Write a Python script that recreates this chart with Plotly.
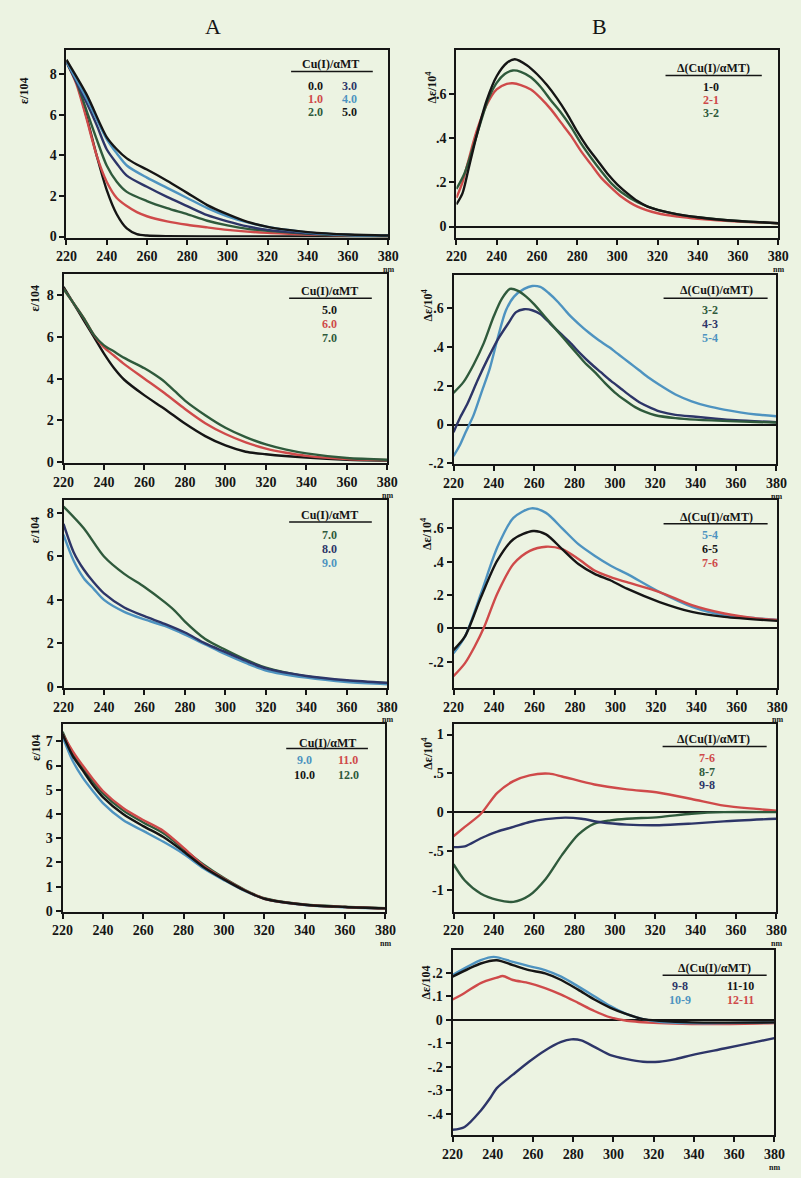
import plotly.graph_objects as go

W, H = 801, 1178
BG = "#ECF3E2"
BLACK = "#151515"
RED = "#CF4A4A"
GREEN = "#2F5A3C"
NAVY = "#2D3568"
LBLUE = "#4E93C0"
FONT = "Liberation Serif"

# ---------------- Column A: absorption spectra (eps / 10^4) ----------------
a1_00_wl = [220, 225, 230, 235, 240, 245, 250, 255, 260, 270, 300, 380]
a1_00 = [8.7, 7.6, 5.9, 4.0, 2.3, 1.1, 0.4, 0.12, 0.05, 0.02, 0.01, 0.0]
a1_10_wl = [220, 225, 230, 235, 240, 245, 250, 255, 260, 270, 280, 290, 300, 320, 340, 360, 380]
a1_10 = [8.6, 7.5, 5.8, 4.0, 2.7, 1.9, 1.5, 1.2, 1.0, 0.75, 0.58, 0.45, 0.33, 0.18, 0.1, 0.05, 0.03]
a1_20_wl = [220, 225, 230, 235, 240, 245, 250, 260, 270, 280, 290, 300, 310, 320, 340, 360, 380]
a1_20 = [8.6, 7.6, 6.2, 4.8, 3.5, 2.7, 2.2, 1.75, 1.4, 1.1, 0.78, 0.55, 0.38, 0.28, 0.14, 0.06, 0.03]
a1_30_wl = [220, 230, 235, 240, 245, 250, 260, 270, 280, 290, 300, 310, 320, 340, 360, 380]
a1_30 = [8.6, 6.6, 5.5, 4.3, 3.6, 3.0, 2.45, 1.95, 1.5, 1.05, 0.75, 0.5, 0.33, 0.16, 0.08, 0.04]
a1_40_wl = [220, 230, 240, 245, 250, 260, 270, 280, 290, 300, 310, 320, 330, 340, 360, 380]
a1_40 = [8.6, 6.8, 4.8, 4.1, 3.5, 2.9, 2.4, 1.9, 1.4, 1.0, 0.7, 0.48, 0.32, 0.2, 0.08, 0.04]
a1_50_wl = [220, 230, 240, 245, 250, 255, 260, 270, 280, 290, 300, 310, 320, 330, 340, 360, 380]
a1_50 = [8.7, 7.0, 4.9, 4.3, 3.85, 3.55, 3.3, 2.75, 2.15, 1.55, 1.1, 0.72, 0.48, 0.33, 0.22, 0.1, 0.05]

a2_50_wl = [220, 225, 230, 235, 240, 245, 250, 260, 270, 280, 290, 300, 310, 320, 340, 360, 380]
a2_50 = [8.4, 7.6, 6.8, 6.0, 5.2, 4.5, 3.95, 3.2, 2.55, 1.85, 1.25, 0.8, 0.5, 0.38, 0.22, 0.12, 0.08]
a2_60_wl = [220, 230, 235, 240, 245, 250, 260, 270, 280, 290, 300, 310, 320, 330, 340, 360, 380]
a2_60 = [8.3, 6.9, 6.1, 5.5, 5.1, 4.7, 4.0, 3.3, 2.55, 1.87, 1.35, 0.95, 0.65, 0.45, 0.3, 0.15, 0.1]
a2_70_wl = [220, 230, 235, 240, 245, 250, 260, 265, 270, 275, 280, 290, 300, 310, 320, 330, 340, 360, 380]
a2_70 = [8.3, 6.9, 6.1, 5.6, 5.3, 5.0, 4.5, 4.2, 3.85, 3.4, 2.95, 2.25, 1.65, 1.2, 0.85, 0.6, 0.42, 0.2, 0.12]

a3_70_wl = [220, 230, 240, 250, 260, 270, 275, 280, 290, 300, 310, 320, 330, 340, 360, 380]
a3_70 = [8.3, 7.3, 6.0, 5.2, 4.6, 3.9, 3.5, 3.0, 2.2, 1.7, 1.25, 0.88, 0.65, 0.48, 0.27, 0.18]
a3_80_wl = [220, 225, 230, 235, 240, 250, 260, 270, 280, 290, 300, 310, 320, 340, 360, 380]
a3_80 = [7.5, 6.2, 5.4, 4.8, 4.3, 3.65, 3.25, 2.9, 2.5, 2.0, 1.6, 1.2, 0.85, 0.5, 0.3, 0.18]
a3_90_wl = [220, 225, 230, 235, 240, 250, 260, 270, 280, 290, 300, 310, 320, 340, 360, 380]
a3_90 = [7.0, 5.8, 5.0, 4.5, 4.0, 3.45, 3.1, 2.8, 2.4, 1.95, 1.5, 1.1, 0.75, 0.42, 0.22, 0.12]

a4_wl = [220, 225, 230, 235, 240, 250, 260, 270, 280, 290, 300, 310, 320, 340, 360, 380]
a4_90 = [7.2, 6.2, 5.5, 4.95, 4.45, 3.75, 3.3, 2.85, 2.35, 1.75, 1.27, 0.83, 0.5, 0.24, 0.15, 0.1]
a4_100 = [7.3, 6.4, 5.8, 5.2, 4.7, 4.0, 3.5, 3.05, 2.45, 1.8, 1.3, 0.85, 0.5, 0.25, 0.16, 0.1]
a4_110 = [7.3, 6.6, 6.0, 5.45, 4.95, 4.25, 3.75, 3.3, 2.6, 1.85, 1.32, 0.86, 0.5, 0.25, 0.16, 0.1]
a4_120 = [7.4, 6.5, 5.9, 5.35, 4.85, 4.15, 3.65, 3.2, 2.55, 1.9, 1.35, 0.88, 0.52, 0.26, 0.17, 0.11]

# ---------------- Column B: difference spectra (delta eps / 10^4) ----------------
b1_10_wl = [220, 223, 226, 230, 235, 240, 245, 249, 255, 260, 265, 270, 275, 280, 285, 290, 295, 300, 305, 310, 315, 320, 330, 340, 350, 360, 370, 380]
b1_10 = [0.10, 0.15, 0.26, 0.41, 0.57, 0.68, 0.74, 0.757, 0.73, 0.69, 0.64, 0.58, 0.51, 0.43, 0.36, 0.30, 0.24, 0.19, 0.15, 0.115, 0.09, 0.075, 0.055, 0.042, 0.032, 0.025, 0.02, 0.015]
b1_21_wl = [220, 223, 226, 230, 235, 240, 245, 248, 252, 257, 262, 267, 272, 277, 282, 287, 292, 297, 302, 310, 320, 330, 340, 360, 380]
b1_21 = [0.13, 0.2, 0.3, 0.43, 0.55, 0.62, 0.645, 0.648, 0.64, 0.62, 0.58, 0.53, 0.47, 0.41, 0.34, 0.28, 0.22, 0.175, 0.135, 0.09, 0.06, 0.045, 0.035, 0.022, 0.015]
b1_32_wl = [220, 224, 228, 232, 236, 240, 244, 248, 252, 257, 262, 267, 272, 277, 282, 287, 292, 297, 302, 310, 320, 330, 340, 360, 380]
b1_32 = [0.17, 0.24, 0.35, 0.47, 0.58, 0.65, 0.69, 0.706, 0.70, 0.675, 0.63, 0.57, 0.515, 0.45, 0.375, 0.31, 0.25, 0.195, 0.155, 0.11, 0.075, 0.055, 0.042, 0.025, 0.015]

b2_32_wl = [220, 225, 230, 235, 240, 244, 248, 252, 256, 260, 265, 270, 275, 280, 285, 290, 295, 300, 305, 310, 315, 320, 330, 340, 360, 380]
b2_32 = [0.163, 0.22, 0.31, 0.42, 0.56, 0.65, 0.70, 0.69, 0.66, 0.62, 0.56, 0.50, 0.44, 0.38, 0.32, 0.27, 0.215, 0.165, 0.125, 0.09, 0.065, 0.048, 0.033, 0.025, 0.016, 0.01]
b2_43_wl = [220, 223, 227, 232, 237, 242, 247, 251, 255, 259, 263, 268, 273, 278, 283, 288, 293, 298, 303, 308, 313, 318, 323, 330, 340, 350, 360, 380]
b2_43 = [-0.04, 0.03, 0.11, 0.23, 0.34, 0.44, 0.52, 0.58, 0.595, 0.59, 0.57, 0.52, 0.47, 0.42, 0.365, 0.315, 0.27, 0.225, 0.185, 0.145, 0.11, 0.085, 0.065, 0.05, 0.04, 0.03, 0.022, 0.012]
b2_54_wl = [220, 223, 226, 230, 234, 238, 242, 246, 250, 255, 259, 263, 267, 272, 277, 282, 287, 292, 297, 302, 307, 312, 317, 322, 330, 338, 346, 354, 362, 370, 380]
b2_54 = [-0.163, -0.11, -0.04, 0.05, 0.17, 0.29, 0.45, 0.59, 0.66, 0.70, 0.715, 0.71, 0.68, 0.63, 0.57, 0.52, 0.475, 0.435, 0.40, 0.36, 0.32, 0.28, 0.24, 0.205, 0.155, 0.12, 0.095, 0.077, 0.063, 0.052, 0.043]

b3_54_wl = [220, 225.6, 233.6, 241.6, 249.6, 258.5, 265.7, 273.7, 281.7, 289.7, 297.7, 305.7, 321.8, 337.8, 353.8, 369.8, 380]
b3_54 = [-0.15, -0.05, 0.21, 0.485, 0.663, 0.72, 0.693, 0.6, 0.505, 0.436, 0.376, 0.327, 0.218, 0.129, 0.079, 0.06, 0.05]
b3_65_wl = [220, 225.6, 233.6, 241.6, 249.6, 259.3, 265.7, 273.7, 281.7, 289.7, 297.7, 305.7, 321.8, 337.8, 353.8, 380]
b3_65 = [-0.13, -0.05, 0.188, 0.406, 0.535, 0.584, 0.564, 0.475, 0.386, 0.327, 0.287, 0.238, 0.158, 0.099, 0.069, 0.045]
b3_76_wl = [220, 225.6, 230.4, 235.2, 241.6, 249.6, 257.7, 265.7, 273.7, 281.7, 289.7, 297.7, 305.7, 321.8, 337.8, 353.8, 369.8, 380]
b3_76 = [-0.287, -0.21, -0.11, 0.01, 0.208, 0.386, 0.465, 0.49, 0.475, 0.416, 0.347, 0.307, 0.277, 0.218, 0.139, 0.089, 0.06, 0.05]

b4_76_wl = [220, 225.6, 233.6, 241.7, 249.7, 257.7, 267.4, 273.8, 289.8, 305.9, 321.9, 338, 354, 370, 380]
b4_76 = [-0.31, -0.19, -0.02, 0.25, 0.40, 0.475, 0.496, 0.46, 0.357, 0.294, 0.25, 0.17, 0.084, 0.042, 0.02]
b4_87_wl = [220, 225.6, 233.6, 241.7, 249.7, 257.7, 265.7, 273.8, 281.8, 289.8, 297.8, 305.9, 321.9, 338, 354, 380]
b4_87 = [-0.67, -0.88, -1.05, -1.13, -1.155, -1.07, -0.86, -0.55, -0.29, -0.147, -0.105, -0.084, -0.063, -0.02, 0.0, 0.0]
b4_98_wl = [220, 225.6, 233.6, 241.7, 249.7, 257.7, 265.7, 275.3, 283.4, 293, 305.9, 321.9, 338, 354, 380]
b4_98 = [-0.45, -0.44, -0.336, -0.25, -0.19, -0.126, -0.09, -0.07, -0.084, -0.13, -0.16, -0.168, -0.147, -0.118, -0.084]

b5_98_wl = [220, 226, 234, 238.9, 242, 250, 258, 266, 274, 279, 284, 290.5, 298.5, 306.6, 314.7, 322.7, 330.8, 338.9, 355, 371, 380]
b5_98 = [-0.467, -0.455, -0.386, -0.33, -0.29, -0.233, -0.178, -0.13, -0.094, -0.083, -0.0875, -0.115, -0.15, -0.167, -0.178, -0.178, -0.167, -0.15, -0.122, -0.094, -0.078]
b5_109_wl = [220, 234, 240.5, 250, 258, 266, 274, 282.4, 290.5, 298.5, 306.6, 314.7, 322.7, 338.9, 355, 380]
b5_109 = [0.19, 0.253, 0.267, 0.246, 0.228, 0.211, 0.183, 0.142, 0.10, 0.058, 0.024, 0.003, -0.008, -0.014, -0.014, -0.011]
b5_1110_wl = [220, 234, 242, 250, 258, 266, 274, 282.4, 290.5, 298.5, 306.6, 314.7, 322.7, 338.9, 380]
b5_1110 = [0.183, 0.239, 0.253, 0.232, 0.211, 0.197, 0.169, 0.128, 0.086, 0.051, 0.024, 0.003, -0.004, -0.011, -0.011]
b5_1211_wl = [220, 226, 234, 242, 245, 250, 258, 266, 274, 282.4, 290.5, 298.5, 306.6, 322.7, 338.9, 355, 380]
b5_1211 = [0.086, 0.114, 0.156, 0.179, 0.186, 0.169, 0.156, 0.135, 0.107, 0.072, 0.0375, 0.01, -0.004, -0.014, -0.018, -0.018, -0.014]

# tick labels
x_ticks = [220, 240, 260, 280, 300, 320, 340, 360, 380]
a_yticks = [0, 2, 4, 6, 8]
a4_yticks = [0, 1, 2, 3, 4, 5, 6, 7]
b1_yticks = [0, 0.2, 0.4, 0.6]
b1_ytext = ["0", ".2", ".4", ".6"]
b23_yticks = [-0.2, 0, 0.2, 0.4, 0.6]
b23_ytext = ["-.2", "0", ".2", ".4", ".6"]
b4_yticks = [-1, -0.5, 0, 0.5, 1]
b4_ytext = ["-1", "-.5", "0", ".5", "1"]
b5_yticks = [-0.4, -0.3, -0.2, -0.1, 0, 0.1, 0.2]
b5_ytext = ["-.4", "-.3", "-.2", "-.1", "0", ".1", ".2"]


def px(x):
    return x / W


def py(y):
    return 1 - y / H


# panel boxes in pixels: (left, right, top, bottom), y range, y ticks, y tick text, zero line
panels = [
    dict(box=(57, 388, 50, 239), yr=(-0.05, 9.2), yt=a_yticks, ytt=None, zero=False),
    dict(box=(54, 387, 276, 466), yr=(-0.05, 9.0), yt=a_yticks, ytt=None, zero=False),
    dict(box=(54, 387, 503, 692), yr=(-0.05, 8.6), yt=a_yticks, ytt=None, zero=False),
    dict(box=(53, 385, 728, 917), yr=(-0.03, 7.73), yt=a4_yticks, ytt=None, zero=False),
    dict(box=(458, 789, 50, 239), yr=(-0.05, 0.8), yt=b1_yticks, ytt=b1_ytext, zero=True),
    dict(box=(455, 787, 277, 467), yr=(-0.205, 0.77), yt=b23_yticks, ytt=b23_ytext, zero=True),
    dict(box=(455, 788, 503, 692), yr=(-0.357, 0.77), yt=b23_yticks, ytt=b23_ytext, zero=True),
    dict(box=(455, 787, 728, 917), yr=(-1.28, 1.14), yt=b4_yticks, ytt=b4_ytext, zero=True),
    dict(box=(454, 785, 956, 1142), yr=(-0.49, 0.295), yt=b5_yticks, ytt=b5_ytext, zero=True),
]

series = [
    (0, a1_00_wl, a1_00, BLACK), (0, a1_10_wl, a1_10, RED), (0, a1_20_wl, a1_20, GREEN),
    (0, a1_30_wl, a1_30, NAVY), (0, a1_40_wl, a1_40, LBLUE), (0, a1_50_wl, a1_50, BLACK),
    (1, a2_50_wl, a2_50, BLACK), (1, a2_60_wl, a2_60, RED), (1, a2_70_wl, a2_70, GREEN),
    (2, a3_70_wl, a3_70, GREEN), (2, a3_90_wl, a3_90, LBLUE), (2, a3_80_wl, a3_80, NAVY),
    (3, a4_wl, a4_90, LBLUE), (3, a4_wl, a4_120, GREEN), (3, a4_wl, a4_110, RED), (3, a4_wl, a4_100, BLACK),
    (4, b1_21_wl, b1_21, RED), (4, b1_32_wl, b1_32, GREEN), (4, b1_10_wl, b1_10, BLACK),
    (5, b2_54_wl, b2_54, LBLUE), (5, b2_43_wl, b2_43, NAVY), (5, b2_32_wl, b2_32, GREEN),
    (6, b3_54_wl, b3_54, LBLUE), (6, b3_76_wl, b3_76, RED), (6, b3_65_wl, b3_65, BLACK),
    (7, b4_76_wl, b4_76, RED), (7, b4_87_wl, b4_87, GREEN), (7, b4_98_wl, b4_98, NAVY),
    (8, b5_98_wl, b5_98, NAVY), (8, b5_1211_wl, b5_1211, RED), (8, b5_109_wl, b5_109, LBLUE),
    (8, b5_1110_wl, b5_1110, BLACK),
]

fig = go.Figure()
layout = dict(
    width=W, height=H, margin=dict(l=0, r=0, t=0, b=0),
    paper_bgcolor=BG, plot_bgcolor=BG, showlegend=False,
    font=dict(family=FONT, color=BLACK),
)

tickfont = dict(family=FONT, size=14, color=BLACK, weight="bold")
for i, p in enumerate(panels):
    l, r, t, b = p["box"]
    sfx = "" if i == 0 else str(i + 1)
    layout["xaxis" + sfx] = dict(
        domain=[px(l), px(r)], range=[220, 380], anchor="y" + sfx,
        tickvals=x_ticks, ticks="outside", ticklen=5, tickwidth=2, tickcolor=BLACK,
        showline=True, linewidth=2, linecolor=BLACK, mirror=True,
        showgrid=False, zeroline=False, tickfont=tickfont,
    )
    yax = dict(
        domain=[py(b), py(t)], range=list(p["yr"]), anchor="x" + sfx,
        tickvals=p["yt"], ticks="outside", ticklen=5, tickwidth=2, tickcolor=BLACK,
        showline=True, linewidth=2, linecolor=BLACK, mirror=True,
        showgrid=False, zeroline=p["zero"], zerolinecolor=BLACK, zerolinewidth=2,
        tickfont=tickfont,
    )
    if p["ytt"] is not None:
        yax["ticktext"] = p["ytt"]
    layout["yaxis" + sfx] = yax

for idx, wl, vals, col in series:
    sfx = "" if idx == 0 else str(idx + 1)
    fig.add_trace(go.Scatter(
        x=wl, y=vals, mode="lines", xaxis="x" + sfx, yaxis="y" + sfx,
        line=dict(color=col, width=2.4, shape="spline", smoothing=0.8),
        hoverinfo="skip",
    ))

ann = []
shapes = []


def text(x, y, s, size=12, color=BLACK, bold=True, angle=0, family=FONT):
    ann.append(dict(
        x=px(x), y=py(y), xref="paper", yref="paper", text=s, showarrow=False,
        font=dict(family=family, size=size, color=color, weight="bold" if bold else "normal"),
        xanchor="center", yanchor="middle", textangle=angle,
    ))


def underline(x0, x1, y):
    shapes.append(dict(type="line", xref="paper", yref="paper",
                       x0=px(x0), x1=px(x1), y0=py(y), y1=py(y),
                       line=dict(color=BLACK, width=1.5)))


# column headings
text(208, 27, "A", size=22, bold=False)
text(605, 27, "B", size=22, bold=False)

# "nm" unit under each 380 tick label
for p in panels:
    l, r, t, b = p["box"]
    text(r, b + 32, "nm", size=8)

# y axis titles
a_title = "ε/104"
b_title = "Δε/10<sup>4</sup>"
text(14, 92, a_title, size=12, angle=-90)
text(25, 300, a_title, size=12, angle=-90)
text(25, 533, a_title, size=12, angle=-90)
text(25, 752, a_title, size=12, angle=-90)
text(432, 88, b_title, size=12, angle=-90)
text(428, 307, b_title, size=12, angle=-90)
text(428, 537, b_title, size=12, angle=-90)
text(428, 758, b_title, size=12, angle=-90)
text(427, 988, "Δε/104", size=12, angle=-90)

# legends
cu_title = "Cu(I)/αMT"
d_title = "Δ(Cu(I)/αMT)"

text(329, 64, cu_title, size=12)
underline(288, 372, 72)
text(313, 87, "0.0", color=BLACK)
text(313, 100, "1.0", color=RED)
text(313, 113, "2.0", color=GREEN)
text(348, 87, "3.0", color=NAVY)
text(348, 100, "4.0", color=LBLUE)
text(348, 113, "5.0", color=BLACK)

text(328, 293, cu_title, size=12)
underline(286, 371, 300)
text(328, 312, "5.0", color=BLACK)
text(328, 326, "6.0", color=RED)
text(328, 340, "7.0", color=GREEN)

text(328, 518, cu_title, size=12)
underline(286, 371, 525)
text(328, 538, "7.0", color=GREEN)
text(328, 552, "8.0", color=NAVY)
text(328, 566, "9.0", color=LBLUE)

text(325, 747, cu_title, size=12)
underline(283, 367, 753)
text(302, 765, "9.0", color=LBLUE)
text(347, 765, "11.0", color=RED)
text(302, 780, "10.0", color=BLACK)
text(347, 780, "12.0", color=GREEN)

text(722, 68, d_title, size=12)
underline(673, 772, 76)
text(720, 88, "1-0", color=BLACK)
text(720, 101, "2-1", color=RED)
text(720, 114, "3-2", color=GREEN)

text(725, 292, d_title, size=12)
underline(671, 778, 300)
text(719, 312, "3-2", color=GREEN)
text(719, 326, "4-3", color=NAVY)
text(719, 340, "5-4", color=LBLUE)

text(725, 520, d_title, size=12)
underline(671, 778, 527)
text(719, 538, "5-4", color=LBLUE)
text(719, 552, "6-5", color=BLACK)
text(719, 566, "7-6", color=RED)

text(722, 743, d_title, size=12)
underline(670, 777, 751)
text(716, 763, "7-6", color=RED)
text(716, 777, "8-7", color=GREEN)
text(716, 790, "9-8", color=NAVY)

text(723, 974, d_title, size=12)
underline(670, 777, 981)
text(688, 992, "9-8", color=NAVY)
text(750, 992, "11-10", color=BLACK)
text(688, 1006, "10-9", color=LBLUE)
text(750, 1006, "12-11", color=RED)

layout["annotations"] = ann
layout["shapes"] = shapes
fig.update_layout(**layout)
fig.write_html("out.html")
